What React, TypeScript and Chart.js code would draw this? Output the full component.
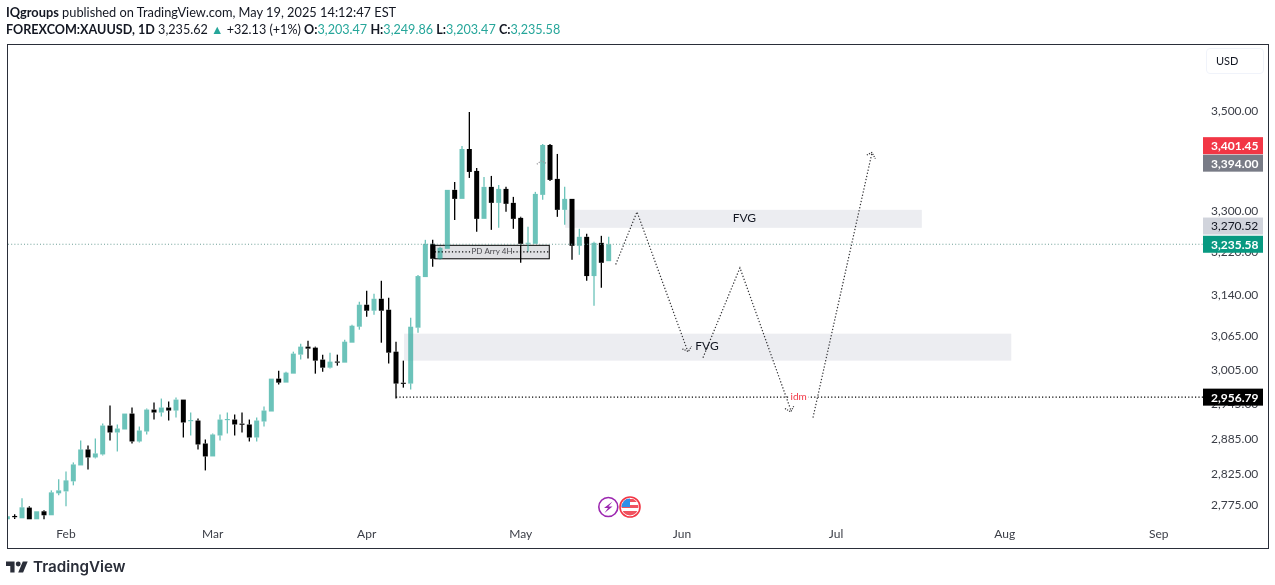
import React, { useEffect, useRef } from 'react';
import { Chart, registerables } from 'chart.js';

Chart.register(...registerables);

// daily candles, first one sits 8 sessions before the Feb tick
const opens = [
    2751.4, 2756.8, 2753, 2770.4, 2751.4, 2764.4, 2757.9, 2793.8, 2797, 2813.6, 2840.1, 2867, 2853.5, 2858.6, 2907.7, 2895.8,
    2900.9, 2928.3, 2880.5, 2897.5, 2935.2, 2930.1, 2938.7, 2933.5, 2952.5, 2915.1, 2916.3, 2877.1, 2855.2, 2890.7, 2916.9, 2918,
    2911, 2909.5, 2887.3, 2914.6, 2931.8, 2989.2, 2982.2, 2998, 3031.8, 3046.1, 3044.3, 3022.9, 3008.6, 3019.5, 3017.5, 3053.2,
    3082.1, 3122.3, 3111.3, 3133.3, 3113.1, 3037.1, 2982, 2980.5, 3080.3, 3173.6, 3236.4, 3208, 3226.9, 3341, 3323.3, 3422.5,
    3378.5, 3284.4, 3346.9, 3315.5, 3342.9, 3315.5, 3286.3, 3236.5, 3236.4, 3331.2, 3430.6, 3362.7, 3301.9, 3323.3, 3232.6, 3249.8,
    3175.5, 3238.3, 3203.47,
];
const highs = [
    2762.3, 2759.5, 2785.6, 2772.5, 2764.4, 2766, 2798.7, 2816.9, 2830.1, 2845.2, 2882.2, 2873.7, 2885.6, 2911.2, 2942.1, 2909.5,
    2928.3, 2938.7, 2906, 2937, 2947.3, 2954.3, 2949.1, 2956, 2952.5, 2930.1, 2919.7, 2883.9, 2894.1, 2926.6, 2930.1, 2926.6,
    2930.1, 2918, 2921.4, 2940.4, 2989.2, 3003.3, 3001.5, 3037.1, 3051.4, 3056.8, 3046.1, 3031.8, 3035.3, 3031.8, 3058.6, 3085.8,
    3127.8, 3148.1, 3142.5, 3166.7, 3135.2, 3055, 3021.1, 3098.5, 3177.3, 3244, 3244, 3230.7, 3341, 3356.7, 3428.6, 3497.9,
    3384.5, 3366.6, 3368.6, 3350.8, 3346.9, 3327.2, 3288.3, 3269, 3337, 3432.7, 3432.7, 3412.5, 3346.9, 3323.3, 3265.2, 3255.5,
    3240.2, 3251.7, 3249.86,
];
const lows = [
    2751.4, 2751.9, 2753, 2751.4, 2751.4, 2751.4, 2757.9, 2790.5, 2772.5, 2807, 2840.1, 2833.5, 2851.9, 2856.9, 2882.2, 2863.6,
    2900.9, 2877.1, 2878.8, 2892.4, 2918, 2923.2, 2916.3, 2921.4, 2887.3, 2890.7, 2867, 2831.8, 2855.2, 2882.2, 2894.1, 2890.7,
    2895.8, 2880.5, 2880.5, 2906, 2931.8, 2978.7, 2982.2, 2998, 3022.9, 3024.7, 2998, 3001.5, 3006.9, 3012.2, 3017.5, 3053.2,
    3076.7, 3100.3, 3104, 3053.2, 3015.8, 2954.3, 2973.4, 2970, 3071.3, 3173.6, 3192.9, 3206.1, 3226.9, 3282.4, 3323.3, 3364.6,
    3259.4, 3284.4, 3263.2, 3267.1, 3298, 3265.2, 3200.4, 3221.2, 3236.4, 3321.4, 3358.7, 3288.3, 3272.8, 3206.1, 3215.5, 3166.7,
    3120.5, 3153.7, 3203.47,
];
const closes = [
    2756.3, 2754.8, 2770.9, 2751.4, 2764.4, 2757.9, 2795.4, 2798.7, 2815.2, 2841.8, 2867, 2853.5, 2860.3, 2907.7, 2895.8, 2902.6,
    2928.3, 2880.5, 2899.2, 2935.2, 2930.1, 2938.7, 2933.5, 2952.5, 2912.9, 2917.1, 2875.4, 2855.2, 2892.4, 2918, 2918.9, 2909.5,
    2909, 2887.3, 2916.3, 2933.5, 2989.2, 2982.2, 2999.8, 3033.6, 3046.1, 3042.5, 3021.1, 3008.6, 3019.3, 3017.5, 3055, 3083.9,
    3122.3, 3111.3, 3133.3, 3111.3, 3035.3, 2980.5, 2980, 3082.1, 3175.5, 3236.4, 3208, 3228.8, 3341, 3323.3, 3422.5, 3376.5,
    3284.4, 3346.9, 3315.5, 3342.9, 3313.6, 3284.4, 3236.4, 3238.5, 3333.1, 3430.6, 3360.7, 3301.9, 3323.3, 3232.6, 3249.8, 3175.5,
    3238.3, 3200.4, 3235.58,
];
const firstBar = -8;

const monthNames = ['Feb', 'Mar', 'Apr', 'May', 'Jun', 'Jul', 'Aug', 'Sep'];
const monthBars = [0, 20, 41, 62, 84, 105, 128, 149];
const priceTicks = [3500, 3300, 3220, 3140, 3065, 3005, 2945, 2885, 2825, 2775];

const lastPrice = 3235.58;
const liquidityPrice = 2956.79;

// pen drawings, [bar, price]
const pathA = [[74.96, 3197.2], [77.86, 3298], [84.8, 3037.1]];
const headA = [[84.04, 3042], [84.86, 3037.6], [85.3, 3046.5]];
const pathB = [[86.86, 3026.4], [91.9, 3191], [98.86, 2933.5]];
const headB = [[98.04, 2937], [98.83, 2931.3], [99.23, 2941]];
const pathC = [[101.86, 2921.4], [109.9, 3414.5]];
const headC = [[109.2, 3410.4], [109.88, 3415.4], [110.37, 3403]];
const headD = [[64.2, 3392], [64.8, 3398.5], [65.45, 3394]];

// [from bar, to bar, top price, bottom price]
const fvgUpper = [68.05, 116.7, 3301.9, 3267.1];
const fvgLower = [46.1, 128.9, 3069.5, 3021.1];
const pdArray = [50.3, 65.9, 3233.6, 3208];
const pdArrayMid = 3221.2;

// lowest first, they get pushed up when they would overlap
const badges = [
    { price: 2956.79, text: '2,956.79', bg: '#000000', fg: '#ffffff', weight: 'bold' },
    { price: 3235.58, text: '3,235.58', bg: '#089981', fg: '#ffffff', weight: 'bold' },
    { price: 3270.52, text: '3,270.52', bg: '#d1d4dc', fg: '#131722', weight: 'normal' },
    { price: 3394.0, text: '3,394.00', bg: '#787b86', fg: '#ffffff', weight: 'bold' },
    { price: 3401.45, text: '3,401.45', bg: '#f23645', fg: '#ffffff', weight: 'bold' },
];

const UP = 'rgba(38,166,154,0.68)';
const DOWN = '#000000';
const FONT = 'Lato, "Open Sans", sans-serif';

const barX = (i: number) => i + firstBar;
const isUp = (i: number) => closes[i] >= opens[i];
const candleColors = opens.map((_, i) => (isUp(i) ? UP : DOWN));

const bodies = opens.map((o, i) => ({ x: barX(i), y: [Math.min(o, closes[i]), Math.max(o, closes[i])] }));
const upperWicks = opens.map((o, i) => ({ x: barX(i), y: [Math.max(o, closes[i]), highs[i]] }));
const lowerWicks = opens.map((o, i) => ({ x: barX(i), y: [lows[i], Math.min(o, closes[i])] }));

const toPoints = (pts: number[][]) => pts.map(([x, y]) => ({ x, y }));

const penLine = (pts: number[][], color = '#333336', dash = [1.3, 1.9], width = 1.2) => ({
    type: 'line' as const,
    data: toPoints(pts),
    borderColor: color,
    borderWidth: width,
    borderDash: dash,
    pointRadius: 0,
    tension: 0,
    order: 0,
});

const barSet = (data: any[], percent: number, order: number) => ({
    type: 'bar' as const,
    data,
    backgroundColor: candleColors,
    borderWidth: 0,
    grouped: false,
    barPercentage: percent,
    categoryPercentage: 1,
    order,
});

const zoneRect = (chart: any, z: number[]) => {
    const { x, y } = chart.scales;
    const left = x.getPixelForValue(z[0]);
    const right = x.getPixelForValue(z[1]);
    const top = y.getPixelForValue(z[2]);
    const bottom = y.getPixelForValue(z[3]);
    return { left, top, w: right - left, h: bottom - top };
};

const drawingsPlugin = {
    id: 'drawings',
    beforeDatasetsDraw(chart: any) {
        const { ctx } = chart;
        ctx.save();
        ctx.fillStyle = '#ecedf1';
        for (const z of [fvgUpper, fvgLower]) {
            const r = zoneRect(chart, z);
            ctx.fillRect(r.left, r.top, r.w, r.h);
        }
        const pd = zoneRect(chart, pdArray);
        ctx.fillStyle = '#dfe0e3';
        ctx.fillRect(pd.left, pd.top, pd.w, pd.h);
        ctx.strokeStyle = '#000000';
        ctx.lineWidth = 1;
        ctx.strokeRect(pd.left, pd.top, pd.w, pd.h);
        ctx.restore();
    },
    afterDatasetsDraw(chart: any) {
        const { ctx, scales } = chart;
        const { x, y } = scales;
        ctx.save();
        ctx.textAlign = 'center';
        ctx.textBaseline = 'middle';

        // zone captions
        ctx.fillStyle = '#131722';
        ctx.font = `12px ${FONT}`;
        ctx.fillText('FVG', x.getPixelForValue(92.5), y.getPixelForValue(3285.5));
        ctx.fillText('FVG', x.getPixelForValue(87.4), y.getPixelForValue(3046.5));

        const pdX = x.getPixelForValue((pdArray[0] + pdArray[1]) / 2);
        const pdY = y.getPixelForValue(pdArrayMid);
        ctx.font = `8px ${FONT}`;
        ctx.fillStyle = '#dfe0e3';
        ctx.fillRect(pdX - 20, pdY - 5, 40, 10);
        ctx.fillStyle = '#4a4a4f';
        ctx.fillText('PD Arry 4H', pdX, pdY);

        const idmX = x.getPixelForValue(99.9);
        const idmY = y.getPixelForValue(liquidityPrice);
        ctx.fillStyle = '#ffffff';
        ctx.fillRect(idmX - 10, idmY - 5, 20, 10);
        ctx.fillStyle = '#f23645';
        ctx.font = `10px ${FONT}`;
        ctx.fillText('idm', idmX, idmY);
        ctx.restore();
    },
    afterDraw(chart: any) {
        const { ctx, scales } = chart;
        const y = scales.y;
        ctx.save();

        // price badges on the axis
        ctx.textBaseline = 'middle';
        let ceiling = Infinity;
        for (const b of badges) {
            const py = Math.min(y.getPixelForValue(b.price), ceiling);
            ceiling = py - 17.5;
            ctx.fillStyle = b.bg;
            ctx.fillRect(1203, py - 8.5, 60, 17);
            ctx.font = `${b.weight} 12px ${FONT}`;
            ctx.fillStyle = b.fg;
            ctx.textAlign = 'left';
            ctx.fillText(b.text, 1211, py + 0.5);
        }

        // event icons above the time axis
        const cy = 507;
        ctx.fillStyle = '#ffffff';
        ctx.strokeStyle = '#9c27b0';
        ctx.lineWidth = 1.6;
        ctx.beginPath();
        ctx.arc(608.3, cy, 9.5, 0, Math.PI * 2);
        ctx.fill();
        ctx.stroke();
        ctx.fillStyle = '#9c27b0';
        ctx.beginPath();
        ctx.moveTo(612.5, 501.5);
        ctx.lineTo(604, 508);
        ctx.lineTo(608, 508);
        ctx.lineTo(604.5, 513);
        ctx.lineTo(612.5, 506.5);
        ctx.lineTo(608.5, 506.5);
        ctx.closePath();
        ctx.fill();

        ctx.save();
        ctx.beginPath();
        ctx.arc(630, cy, 8.5, 0, Math.PI * 2);
        ctx.clip();
        ctx.fillStyle = '#ffffff';
        ctx.fillRect(620, cy - 10, 20, 20);
        ctx.fillStyle = '#f0525f';
        ctx.fillRect(620, cy - 8, 20, 3);
        ctx.fillRect(620, cy - 2, 20, 3);
        ctx.fillRect(620, cy + 4, 20, 5);
        ctx.fillStyle = '#2f8fe8';
        ctx.fillRect(620, cy - 10, 10, 10);
        ctx.restore();
        ctx.strokeStyle = '#f23645';
        ctx.lineWidth = 1.6;
        ctx.beginPath();
        ctx.arc(630, cy, 10, 0, Math.PI * 2);
        ctx.stroke();
        ctx.restore();
    },
};

function CandleChart() {
    const canvasRef = useRef<HTMLCanvasElement>(null);

    useEffect(() => {
        if (!canvasRef.current) return;
        const chart = new Chart(canvasRef.current, {
            type: 'bar',
            data: {
                datasets: [
                    penLine(pathA),
                    penLine(headA, '#333336', [1.2, 1.2]),
                    penLine(pathB),
                    penLine(headB, '#333336', [1.2, 1.2]),
                    penLine(pathC),
                    penLine(headC, '#333336', [1.2, 1.2]),
                    penLine(headD, '#9a9a9e', [1.2, 1.2]),
                    { ...penLine([[-7.91, lastPrice], [155.18, lastPrice]], '#6d9f97', [1, 2.2], 1), order: 1 },
                    penLine([[45, liquidityPrice], [155.18, liquidityPrice]], '#000000', [1.2, 2.2]),
                    penLine([[pdArray[0], pdArrayMid], [pdArray[1], pdArrayMid]], '#000000', [1.2, 2.2]),
                    barSet(bodies, 0.68, 2),
                    barSet(upperWicks, 0.18, 3),
                    barSet(lowerWicks, 0.18, 3),
                ] as any,
            },
            options: {
                responsive: false,
                animation: false,
                layout: { padding: { left: 8, right: 7, top: 45, bottom: 37 } },
                plugins: { legend: { display: false }, tooltip: { enabled: false } },
                scales: {
                    x: {
                        type: 'linear',
                        offset: false,
                        min: -7.91,
                        max: 155.18,
                        grid: { display: false, drawTicks: false },
                        border: { display: false },
                        afterBuildTicks: (scale: any) => {
                            scale.ticks = monthBars.map(value => ({ value }));
                        },
                        afterFit: (scale: any) => {
                            scale.height = 26;
                        },
                        ticks: {
                            autoSkip: false,
                            maxRotation: 0,
                            padding: 5,
                            color: '#3b3e47',
                            font: { family: FONT, size: 12 },
                            callback: (v: any) => monthNames[monthBars.indexOf(Number(v))] ?? '',
                        },
                    },
                    y: {
                        type: 'logarithmic',
                        position: 'right',
                        min: 2747,
                        max: 3638.8,
                        grid: { display: false, drawTicks: false },
                        border: { display: false },
                        afterBuildTicks: (scale: any) => {
                            scale.ticks = priceTicks.map(value => ({ value }));
                        },
                        afterFit: (scale: any) => {
                            scale.width = 64;
                        },
                        ticks: {
                            autoSkip: false,
                            padding: 7,
                            crossAlign: 'near',
                            color: '#3b3e47',
                            font: { family: FONT, size: 12 },
                            callback: (v: any) => Number(v).toLocaleString('en-US', { minimumFractionDigits: 2 }),
                        },
                    },
                },
            },
            plugins: [drawingsPlugin],
        });
        return () => chart.destroy();
    }, []);

    return <canvas ref={canvasRef} width={1275} height={585} style={{ display: 'block', width: 1275, height: 585 }} />;
}

const teal: React.CSSProperties = { color: '#26a69a' };
const strong: React.CSSProperties = { fontWeight: 700 };

export default function App() {
    return (
        <div style={{ position: 'fixed', left: 0, top: 0, width: 1275, height: 585, background: '#fff', overflow: 'hidden', fontFamily: FONT, color: '#131722' }}>
            <CandleChart />
            <div style={{ position: 'absolute', left: 7, top: 44, width: 1260, height: 503, border: '1.5px solid #2a2e39', boxSizing: 'content-box', pointerEvents: 'none' }} />
            <div style={{ position: 'absolute', left: 6, top: 4, fontSize: 12.8, lineHeight: '17px', whiteSpace: 'nowrap' }}>
                <span style={strong}>IQgroups</span> published on TradingView.com, May 19, 2025 14:12:47 EST
            </div>
            <div style={{ position: 'absolute', left: 6, top: 21, fontSize: 12.6, lineHeight: '17px', whiteSpace: 'nowrap' }}>
                <span style={strong}>FOREXCOM:XAUUSD, 1D</span> 3,235.62 <span style={teal}>▲</span> +32.13 (+1%) <span style={strong}>O:</span>
                <span style={teal}>3,203.47</span> <span style={strong}>H:</span><span style={teal}>3,249.86</span> <span style={strong}>L:</span>
                <span style={teal}>3,203.47</span> <span style={strong}>C:</span><span style={teal}>3,235.58</span>
            </div>
            <div style={{ position: 'absolute', left: 1206, top: 48, width: 58, height: 26, boxSizing: 'border-box', border: '1px solid #f0f3fa', borderRadius: 4, fontSize: 11, lineHeight: '24px', paddingLeft: 9 }}>
                USD
            </div>
            <svg style={{ position: 'absolute', left: 6, top: 559 }} width="22" height="15" viewBox="0 0 36 24">
                <path fill="#2a2e39" d="M14 22H7V11H0V4h14v18zM28 22h-8l7.5-18h8L28 22z" />
                <circle fill="#2a2e39" cx="20" cy="8" r="4" />
            </svg>
            <div style={{ position: 'absolute', left: 33, top: 556, fontFamily: 'Inter, sans-serif', fontWeight: 600, fontSize: 15.2, lineHeight: '22px', color: '#2a2e39', whiteSpace: 'nowrap' }}>
                TradingView
            </div>
        </div>
    );
}
